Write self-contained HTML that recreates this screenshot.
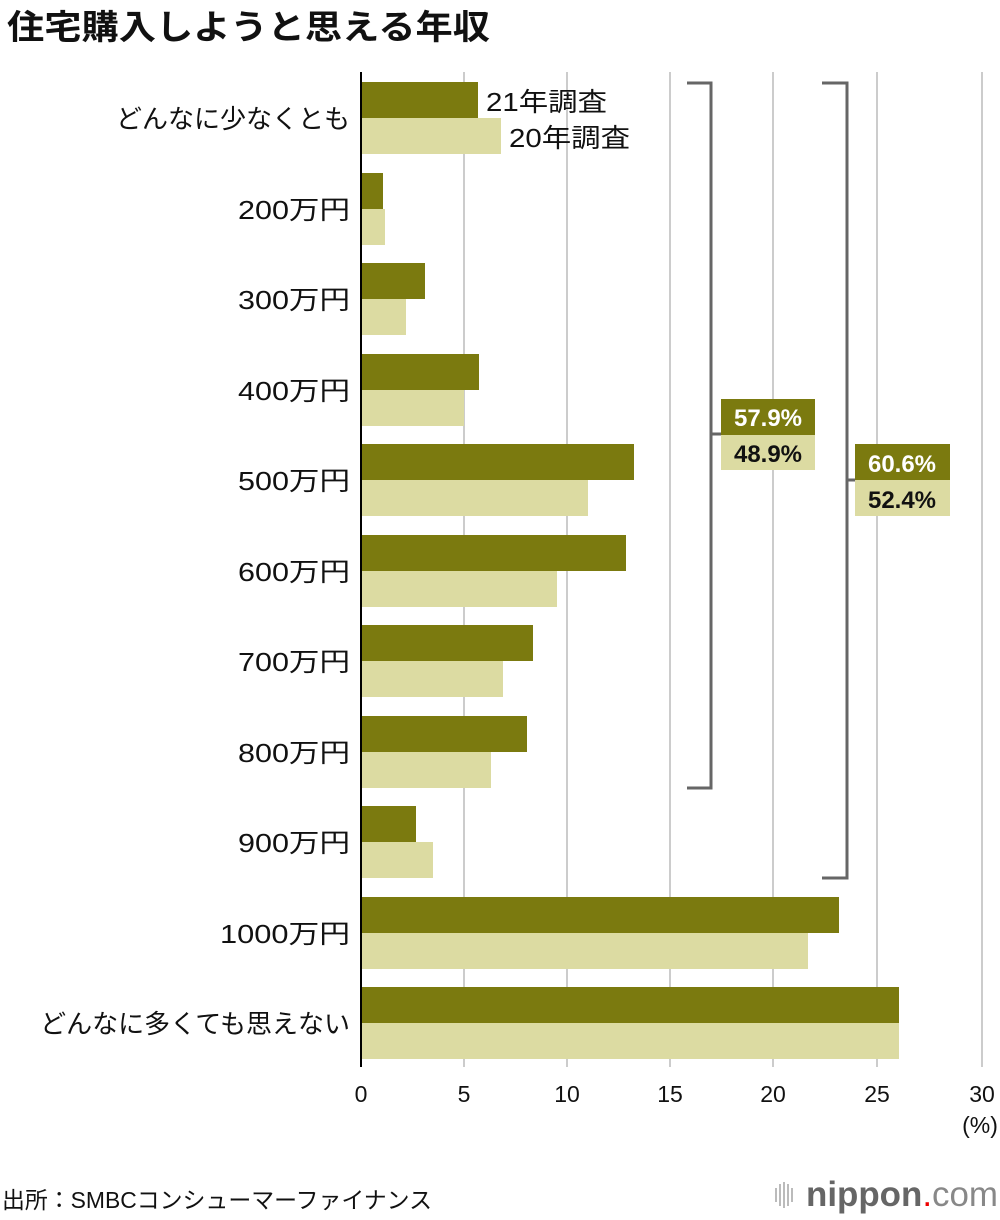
<!DOCTYPE html>
<html><head><meta charset="utf-8"><style>
html,body{margin:0;padding:0;background:#fff;}
svg{display:block;font-family:"Liberation Sans","Noto Sans CJK JP",sans-serif;}
</style></head><body>
<svg width="1000" height="1220" viewBox="0 0 1000 1220">
<text x="7" y="39" font-size="34" font-weight="bold" fill="#111" textLength="483" lengthAdjust="spacingAndGlyphs">住宅購入しようと思える年収</text>
<g stroke="#cccccc" stroke-width="2">
<line x1="464" y1="72" x2="464" y2="1067"/><line x1="567" y1="72" x2="567" y2="1067"/>
<line x1="670" y1="72" x2="670" y2="1067"/><line x1="773" y1="72" x2="773" y2="1067"/>
<line x1="877" y1="72" x2="877" y2="1067"/><line x1="982" y1="72" x2="982" y2="1067"/>
</g>
<g fill="#7b7a0f">
<rect x="361" y="82" width="117" height="36"/>
<rect x="361" y="173" width="22" height="36"/>
<rect x="361" y="263" width="64" height="36"/>
<rect x="361" y="354" width="118" height="36"/>
<rect x="361" y="444" width="273" height="36"/>
<rect x="361" y="535" width="265" height="36"/>
<rect x="361" y="625" width="172" height="36"/>
<rect x="361" y="716" width="166" height="36"/>
<rect x="361" y="806" width="55" height="36"/>
<rect x="361" y="897" width="478" height="36"/>
<rect x="361" y="987" width="538" height="36"/>
</g>
<g fill="#dcdba2">
<rect x="361" y="118" width="140" height="36"/>
<rect x="361" y="209" width="24" height="36"/>
<rect x="361" y="299" width="45" height="36"/>
<rect x="361" y="390" width="103" height="36"/>
<rect x="361" y="480" width="227" height="36"/>
<rect x="361" y="571" width="196" height="36"/>
<rect x="361" y="661" width="142" height="36"/>
<rect x="361" y="752" width="130" height="36"/>
<rect x="361" y="842" width="72" height="36"/>
<rect x="361" y="933" width="447" height="36"/>
<rect x="361" y="1023" width="538" height="36"/>
</g>
<line x1="361" y1="72" x2="361" y2="1067" stroke="#000" stroke-width="2"/>
<g font-size="26" fill="#111">
<text x="486" y="111" textLength="121" lengthAdjust="spacingAndGlyphs">21年調査</text>
<text x="509" y="147" textLength="121" lengthAdjust="spacingAndGlyphs">20年調査</text>
</g>
<g font-size="26" fill="#111" text-anchor="end">
<text x="350" y="128">どんなに少なくとも</text>
<text x="350" y="219" textLength="112" lengthAdjust="spacingAndGlyphs">200万円</text>
<text x="350" y="309" textLength="112" lengthAdjust="spacingAndGlyphs">300万円</text>
<text x="350" y="400" textLength="112" lengthAdjust="spacingAndGlyphs">400万円</text>
<text x="350" y="490" textLength="112" lengthAdjust="spacingAndGlyphs">500万円</text>
<text x="350" y="581" textLength="112" lengthAdjust="spacingAndGlyphs">600万円</text>
<text x="350" y="671" textLength="112" lengthAdjust="spacingAndGlyphs">700万円</text>
<text x="350" y="762" textLength="112" lengthAdjust="spacingAndGlyphs">800万円</text>
<text x="350" y="852" textLength="112" lengthAdjust="spacingAndGlyphs">900万円</text>
<text x="350" y="943" textLength="130" lengthAdjust="spacingAndGlyphs">1000万円</text>
<text x="350" y="1033">どんなに多くても思えない</text>
</g>
<g fill="none" stroke="#666" stroke-width="3">
<polyline points="687,83 711,83 711,788 687,788"/>
<line x1="711" y1="434" x2="722" y2="434"/>
<polyline points="822,83 847,83 847,878 822,878"/>
<line x1="847" y1="480" x2="856" y2="480"/>
</g>
<rect x="721" y="399" width="94" height="36" fill="#7b7a0f"/>
<rect x="721" y="435" width="94" height="35" fill="#dcdba2"/>
<rect x="855" y="444" width="95" height="36" fill="#7b7a0f"/>
<rect x="855" y="480" width="95" height="36" fill="#dcdba2"/>
<g font-size="24" font-weight="bold" text-anchor="middle">
<text x="768" y="426" fill="#fff">57.9%</text>
<text x="768" y="462" fill="#111">48.9%</text>
<text x="902" y="472" fill="#fff">60.6%</text>
<text x="902" y="508" fill="#111">52.4%</text>
</g>
<g font-size="23" fill="#111" text-anchor="middle">
<text x="361" y="1102">0</text><text x="464" y="1102">5</text><text x="567" y="1102">10</text>
<text x="670" y="1102">15</text><text x="773" y="1102">20</text><text x="877" y="1102">25</text>
<text x="982" y="1102">30</text><text x="980" y="1133">(%)</text>
</g>
<text x="2" y="1208" font-size="23" fill="#111" textLength="430" lengthAdjust="spacingAndGlyphs">出所：SMBCコンシューマーファイナンス</text>
<g stroke="#bbb" stroke-width="2">
<line x1="776" y1="1188" x2="776" y2="1202"/><line x1="780" y1="1184" x2="780" y2="1206"/>
<line x1="784" y1="1182" x2="784" y2="1208"/><line x1="788" y1="1184" x2="788" y2="1206"/>
<line x1="792" y1="1188" x2="792" y2="1202"/>
</g>
<text x="806" y="1206" font-size="35" fill="#666" textLength="192" lengthAdjust="spacingAndGlyphs"><tspan font-weight="bold">nippon</tspan><tspan fill="#e00">.</tspan><tspan fill="#888">com</tspan></text>
</svg>
</body></html>
